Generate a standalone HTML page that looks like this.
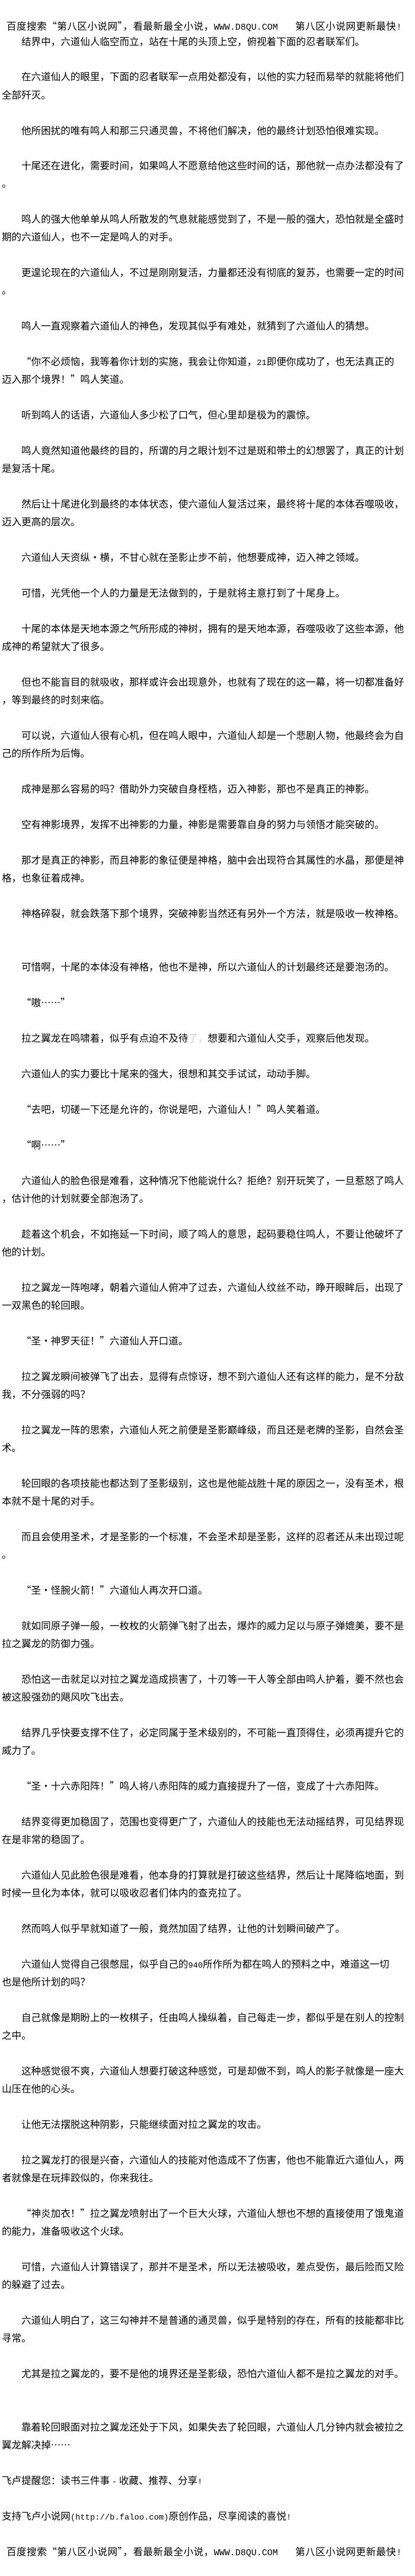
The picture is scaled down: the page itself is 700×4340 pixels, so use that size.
<!DOCTYPE html>
<html lang="zh-CN"><head><meta charset="utf-8"><title>第八区小说网</title>
<style>
html,body{margin:0;padding:0;background:#fff}
#p{position:relative;width:700px;height:4340px;overflow:hidden;background:#fff;color:#000;font-family:"Noto Sans CJK SC","Liberation Sans",sans-serif;font-size:16.56px;line-height:30px}
#p div{position:absolute;left:3px;white-space:nowrap;height:30px;line-height:30px}
#p div.a{left:36px}
#p div.t{letter-spacing:.5px}
#p .m{font-family:"Liberation Mono",monospace;font-size:13.8px}
#p .t .m{font-size:15px;letter-spacing:0}
#p .g{color:#ccc}
</style></head><body><div id="p">
<div class="t" style="top:28px;left:11px">百度搜索“第八区小说网”，看最新最全小说，<span class="m">WWW.D8QU.COM</span></div>
<div class="t" style="top:28px;left:498px">第八区小说网更新最快<span class="m">!</span></div>
<div class="a" style="top:54px">结界中，六道仙人临空而立，站在十尾的头顶上空，俯视着下面的忍者联军们。</div>
<div class="a" style="top:113px">在六道仙人的眼里，下面的忍者联军一点用处都没有，以他的实力轻而易举的就能将他们</div>
<div style="top:144px">全部歼灭。</div>
<div class="a" style="top:204px">他所困扰的唯有鸣人和那三只通灵兽，不将他们解决，他的最终计划恐怕很难实现。</div>
<div class="a" style="top:263px">十尾还在进化，需要时间，如果鸣人不愿意给他这些时间的话，那他就一点办法都没有了</div>
<div style="top:293px">。</div>
<div class="a" style="top:353px">鸣人的强大他单单从鸣人所散发的气息就能感觉到了，不是一般的强大，恐怕就是全盛时</div>
<div style="top:383px">期的六道仙人，也不一定是鸣人的对手。</div>
<div class="a" style="top:443px">更遑论现在的六道仙人，不过是刚刚复活，力量都还没有彻底的复苏，也需要一定的时间</div>
<div style="top:473px">。</div>
<div class="a" style="top:533px">鸣人一直观察着六道仙人的神色，发现其似乎有难处，就猜到了六道仙人的猜想。</div>
<div class="a" style="top:593px">“你不必烦恼，我等着你计划的实施，我会让你知道，<span class="m">21</span>即便你成功了，也无法真正的</div>
<div style="top:623px">迈入那个境界！”鸣人笑道。</div>
<div class="a" style="top:683px">听到鸣人的话语，六道仙人多少松了口气，但心里却是极为的震惊。</div>
<div class="a" style="top:743px">鸣人竟然知道他最终的目的，所谓的月之眼计划不过是斑和带土的幻想罢了，真正的计划</div>
<div style="top:773px">是复活十尾。</div>
<div class="a" style="top:833px">然后让十尾进化到最终的本体状态，使六道仙人复活过来，最终将十尾的本体吞噬吸收，</div>
<div style="top:863px">迈入更高的层次。</div>
<div class="a" style="top:923px">六道仙人天资纵·横，不甘心就在圣影止步不前，他想要成神，迈入神之领域。</div>
<div class="a" style="top:983px">可惜，光凭他一个人的力量是无法做到的，于是就将主意打到了十尾身上。</div>
<div class="a" style="top:1043px">十尾的本体是天地本源之气所形成的神树，拥有的是天地本源，吞噬吸收了这些本源，他</div>
<div style="top:1073px">成神的希望就大了很多。</div>
<div class="a" style="top:1133px">但也不能盲目的就吸收，那样或许会出现意外，也就有了现在的这一幕，将一切都准备好</div>
<div style="top:1163px">，等到最终的时刻来临。</div>
<div class="a" style="top:1223px">可以说，六道仙人很有心机，但在鸣人眼中，六道仙人却是一个悲剧人物，他最终会为自</div>
<div style="top:1253px">己的所作所为后悔。</div>
<div class="a" style="top:1313px">成神是那么容易的吗？借助外力突破自身桎梏，迈入神影，那也不是真正的神影。</div>
<div class="a" style="top:1373px">空有神影境界，发挥不出神影的力量，神影是需要靠自身的努力与领悟才能突破的。</div>
<div class="a" style="top:1433px">那才是真正的神影，而且神影的象征便是神格，脑中会出现符合其属性的水晶，那便是神</div>
<div style="top:1463px">格，也象征着成神。</div>
<div class="a" style="top:1523px">神格碎裂，就会跌落下那个境界，突破神影当然还有另外一个方法，就是吸收一枚神格。</div>
<div class="a" style="top:1613px">可惜啊，十尾的本体没有神格，他也不是神，所以六道仙人的计划最终还是要泡汤的。</div>
<div class="a" style="top:1673px">“嗷……”</div>
<div class="a" style="top:1733px">拉之翼龙在鸣啸着，似乎有点迫不及待<span class="g">了，</span>想要和六道仙人交手，观察后他发现。</div>
<div class="a" style="top:1793px">六道仙人的实力要比十尾来的强大，很想和其交手试试，动动手脚。</div>
<div class="a" style="top:1853px">“去吧，切磋一下还是允许的，你说是吧，六道仙人！”鸣人笑着道。</div>
<div class="a" style="top:1913px">“啊……”</div>
<div class="a" style="top:1973px">六道仙人的脸色很是难看，这种情况下他能说什么？拒绝？别开玩笑了，一旦惹怒了鸣人</div>
<div style="top:2003px">，估计他的计划就要全部泡汤了。</div>
<div class="a" style="top:2063px">趁着这个机会，不如拖延一下时间，顺了鸣人的意思，起码要稳住鸣人，不要让他破坏了</div>
<div style="top:2093px">他的计划。</div>
<div class="a" style="top:2153px">拉之翼龙一阵咆哮，朝着六道仙人俯冲了过去，六道仙人纹丝不动，睁开眼眸后，出现了</div>
<div style="top:2183px">一双黑色的轮回眼。</div>
<div class="a" style="top:2243px">“圣·神罗天征！”六道仙人开口道。</div>
<div class="a" style="top:2303px">拉之翼龙瞬间被弹飞了出去，显得有点惊讶，想不到六道仙人还有这样的能力，是不分敌</div>
<div style="top:2333px">我，不分强弱的吗？</div>
<div class="a" style="top:2393px">拉之翼龙一阵的思索，六道仙人死之前便是圣影巅峰级，而且还是老牌的圣影，自然会圣</div>
<div style="top:2423px">术。</div>
<div class="a" style="top:2483px">轮回眼的各项技能也都达到了圣影级别，这也是他能战胜十尾的原因之一，没有圣术，根</div>
<div style="top:2513px">本就不是十尾的对手。</div>
<div class="a" style="top:2573px">而且会使用圣术，才是圣影的一个标准，不会圣术却是圣影，这样的忍者还从未出现过呢</div>
<div style="top:2603px">。</div>
<div class="a" style="top:2663px">“圣·怪腕火箭！”六道仙人再次开口道。</div>
<div class="a" style="top:2723px">就如同原子弹一般，一枚枚的火箭弹飞射了出去，爆炸的威力足以与原子弹媲美，要不是</div>
<div style="top:2753px">拉之翼龙的防御力强。</div>
<div class="a" style="top:2813px">恐怕这一击就足以对拉之翼龙造成损害了，十刃等一干人等全部由鸣人护着，要不然也会</div>
<div style="top:2843px">被这股强劲的飓风吹飞出去。</div>
<div class="a" style="top:2903px">结界几乎快要支撑不住了，必定同属于圣术级别的，不可能一直顶得住，必须再提升它的</div>
<div style="top:2933px">威力了。</div>
<div class="a" style="top:2993px">“圣·十六赤阳阵！”鸣人将八赤阳阵的威力直接提升了一倍，变成了十六赤阳阵。</div>
<div class="a" style="top:3053px">结界变得更加稳固了，范围也变得更广了，六道仙人的技能也无法动摇结界，可见结界现</div>
<div style="top:3083px">在是非常的稳固了。</div>
<div class="a" style="top:3143px">六道仙人见此脸色很是难看，他本身的打算就是打破这些结界，然后让十尾降临地面，到</div>
<div style="top:3173px">时候一旦化为本体，就可以吸收忍者们体内的查克拉了。</div>
<div class="a" style="top:3233px">然而鸣人似乎早就知道了一般，竟然加固了结界，让他的计划瞬间破产了。</div>
<div class="a" style="top:3293px">六道仙人觉得自己很憋屈，似乎自己的<span class="m">940</span>所作所为都在鸣人的预料之中，难道这一切</div>
<div style="top:3323px">也是他所计划的吗？</div>
<div class="a" style="top:3383px">自己就像是期盼上的一枚棋子，任由鸣人操纵着，自己每走一步，都似乎是在别人的控制</div>
<div style="top:3413px">之中。</div>
<div class="a" style="top:3473px">这种感觉很不爽，六道仙人想要打破这种感觉，可是却做不到，鸣人的影子就像是一座大</div>
<div style="top:3503px">山压在他的心头。</div>
<div class="a" style="top:3563px">让他无法摆脱这种阴影，只能继续面对拉之翼龙的攻击。</div>
<div class="a" style="top:3623px">拉之翼龙打的很是兴奋，六道仙人的技能对他造成不了伤害，他也不能靠近六道仙人，两</div>
<div style="top:3653px">者就像是在玩摔跤似的，你来我往。</div>
<div class="a" style="top:3713px">“神炎加衣！”拉之翼龙喷射出了一个巨大火球，六道仙人想也不想的直接使用了饿鬼道</div>
<div style="top:3743px">的能力，准备吸收这个火球。</div>
<div class="a" style="top:3803px">可惜，六道仙人计算错误了，那并不是圣术，所以无法被吸收，差点受伤，最后险而又险</div>
<div style="top:3833px">的躲避了过去。</div>
<div class="a" style="top:3893px">六道仙人明白了，这三勾神并不是普通的通灵兽，似乎是特别的存在，所有的技能都非比</div>
<div style="top:3923px">寻常。</div>
<div class="a" style="top:3983px">尤其是拉之翼龙的，要不是他的境界还是圣影级，恐怕六道仙人都不是拉之翼龙的对手。</div>
<div class="a" style="top:4073px">靠着轮回眼面对拉之翼龙还处于下风，如果失去了轮回眼，六道仙人几分钟内就会被拉之</div>
<div style="top:4103px">翼龙解决掉……</div>
<div style="top:4163px">飞卢提醒您：读书三件事 <span class="m">-</span> 收藏、推荐、分享<span class="m">!</span></div>
<div style="top:4223px">支持飞卢小说网<span class="m">(http://b.faloo.com)</span>原创作品，尽享阅读的喜悦<span class="m">!</span></div>
<div class="t" style="top:4283px;left:11px">百度搜索“第八区小说网”，看最新最全小说，<span class="m">WWW.D8QU.COM</span></div>
<div class="t" style="top:4283px;left:498px">第八区小说网更新最快<span class="m">!</span></div>
</div></body></html>
